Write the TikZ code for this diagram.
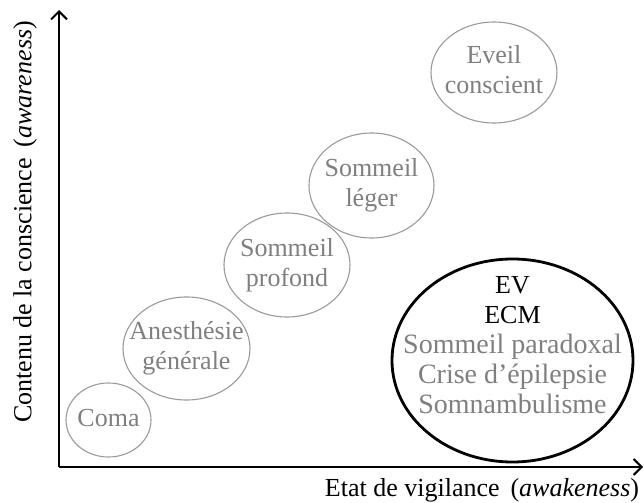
\documentclass[tikz,border=0pt]{standalone}
\usepackage{fontspec}
\setmainfont{Liberation Serif}
\usetikzlibrary{arrows.meta,shapes.geometric}
\definecolor{stategray}{HTML}{7F7F7F}
\definecolor{ringgray}{HTML}{9A9A9A}
% text that does not widen its ellipse
\newcommand{\ringtext}[1]{\makebox[0pt]{\begin{tabular}{@{}c@{}}#1\end{tabular}}}

\begin{document}
\begin{tikzpicture}[x=0.5pt,y=-0.5pt,
  axisline/.style={line width=1pt, -{Straight Barb[length=4pt,width=8pt]}},
  axislabel/.style={font=\fontsize{13}{15}\selectfont},
  statering/.style={ellipse, draw=ringgray, line width=0.55pt, inner sep=0pt,
    text=stategray, font=\fontsize{13}{15}\selectfont},
  zonering/.style={ellipse, draw=black, line width=1.4pt, inner sep=0pt},
]
% canvas = 644 x 503 px, one px = 0.5pt, y downwards
\useasboundingbox (0,0) rectangle (644,503);

% axes
\coordinate (origin) at (59,467);
\coordinate (ytip) at (59,10);
\coordinate (xtip) at (643,467);
\draw[axisline] (origin) -- (ytip);
\draw[axisline] (origin) -- (xtip);
\node[axislabel] (xlab) at (482,490) {Etat de vigilance \,(\textit{awakeness})};
\node[axislabel, rotate=90] (ylab) at (25,222) {Contenu de la conscience \,(\textit{awareness})};

% states along the diagonal
\node[statering, minimum width=42.5pt, minimum height=37pt]  (coma)    at (108.5,420)   {\ringtext{Coma}};
\node[statering, minimum width=63.5pt, minimum height=51.5pt] (anesth)  at (186.5,348.5) {\ringtext{Anesthésie\\générale}};
\node[statering, minimum width=63pt, minimum height=52pt]   (profond) at (287,265)     {\ringtext{Sommeil\\profond}};
\node[statering, minimum width=62.5pt, minimum height=52.5pt] (leger)   at (371.5,185.5) {\ringtext{Sommeil\\léger}};
\node[statering, minimum width=63pt, minimum height=50.5pt] (eveil)   at (494,72.5)    {\ringtext{Eveil\\conscient}};

% dissociated states
\node[zonering, minimum width=120.5pt, minimum height=101.5pt] (zone) at (512.5,360.5) {};
\node[align=center, font=\fontsize{13}{15}\selectfont] (zonetxt) at (512.5,345) {EV\\ECM\\
  {\color{stategray}\fontsize{14}{15}\selectfont Sommeil paradoxal}\\
  {\color{stategray}\fontsize{14}{15}\selectfont Crise d’épilepsie}\\
  {\color{stategray}\fontsize{14}{15}\selectfont Somnambulisme}};
\end{tikzpicture}
\end{document}
